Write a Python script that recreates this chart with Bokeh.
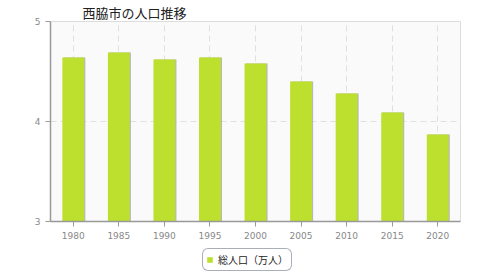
from bokeh.plotting import figure
from bokeh.layouts import column
from bokeh.models import ColumnDataSource, Legend, LegendItem, FixedTicker, Range1d
from bokeh.transform import dodge
from bokeh.embed import file_html
from bokeh.resources import INLINE

years = ["1980", "1985", "1990", "1995", "2000", "2005", "2010", "2015", "2020"]
population = [4.64, 4.69, 4.62, 4.64, 4.58, 4.40, 4.28, 4.09, 3.87]
series_name = "総人口（万人）"
title_text = "西脇市の人口推移"

BAR_COLOR = "#bde02e"
src = ColumnDataSource(dict(x=years, y=population))

p = figure(frame_width=410, frame_height=200, x_range=years, y_range=(3, 5),
           output_backend="svg", toolbar_location=None,
           min_border_left=50, min_border_right=20, min_border_top=0, min_border_bottom=0)

p.title.text = title_text
p.title.text_font = "Noto Sans CJK JP"
p.title.text_font_size = "13px"
p.title.text_font_style = "normal"
p.title.text_color = "#222222"
p.title.offset = 32
p.title.standoff = 0
p.title.text_line_height = 1.0

p.background_fill_color = "#fafafa"
p.border_fill_color = "white"
p.outline_line_color = "#dddddd"

shadow = p.vbar(x=dodge("x", 0.025, range=p.x_range), top="y", bottom=3, width=0.48, source=src,
                fill_color="#a8a8a8", line_color=None, fill_alpha=0.8)
bars = p.vbar(x="x", top="y", bottom=3, width=0.48, source=src,
              fill_color=BAR_COLOR, line_color=None)

p.xgrid.grid_line_color = "#e0e0e0"
p.xgrid.grid_line_dash = "6 4"
p.ygrid.grid_line_color = "#e0e0e0"
p.ygrid.grid_line_dash = "6 4"
p.yaxis.ticker = FixedTicker(ticks=[3, 4, 5])

for ax in (p.xaxis[0], p.yaxis[0]):
    ax.axis_line_color = "#999999"
    ax.axis_line_width = 1.5
    ax.major_tick_line_color = "#999999"
    ax.major_label_text_color = "#888888"
    ax.major_label_text_font = "DejaVu Sans"
    ax.major_label_text_font_size = "9px"
    ax.minor_tick_line_color = None
p.yaxis.major_tick_out = 5
p.yaxis.major_tick_in = 0
p.xaxis.major_tick_out = 5
p.xaxis.major_tick_in = 0
p.xaxis.major_label_standoff = 5

# legend figure below the chart (zero-height proxy bar only feeds the legend swatch)
lf = figure(width=480, height=35, output_backend="svg", toolbar_location=None,
            x_range=Range1d(0, 1), y_range=Range1d(0, 1),
            x_axis_location=None, y_axis_location=None,
            min_border=0, outline_line_color=None)
lf.grid.visible = False
lf.background_fill_color = "white"
lf.border_fill_color = "white"
proxy = ColumnDataSource(dict(x=[0.5], top=[0.0]))
leg_r = lf.vbar(x="x", top="top", bottom=0, width=0.01, source=proxy,
                fill_color=BAR_COLOR, line_color=None)

legend = Legend(items=[LegendItem(label=series_name, renderers=[leg_r])],
                location=(152, 5), orientation="horizontal",
                label_text_font="Noto Sans CJK JP", label_text_font_size="10px",
                label_text_color="#222222",
                glyph_width=7, glyph_height=7, label_height=12,
                border_line_color="#556070", border_line_width=1,
                background_fill_color="white",
                padding=3, margin=0, spacing=4)
try:
    legend.border_radius = 6
except Exception:
    pass
lf.add_layout(legend)

layout = column(p, lf, spacing=0)
open("out.html", "w").write(file_html(layout, INLINE))
